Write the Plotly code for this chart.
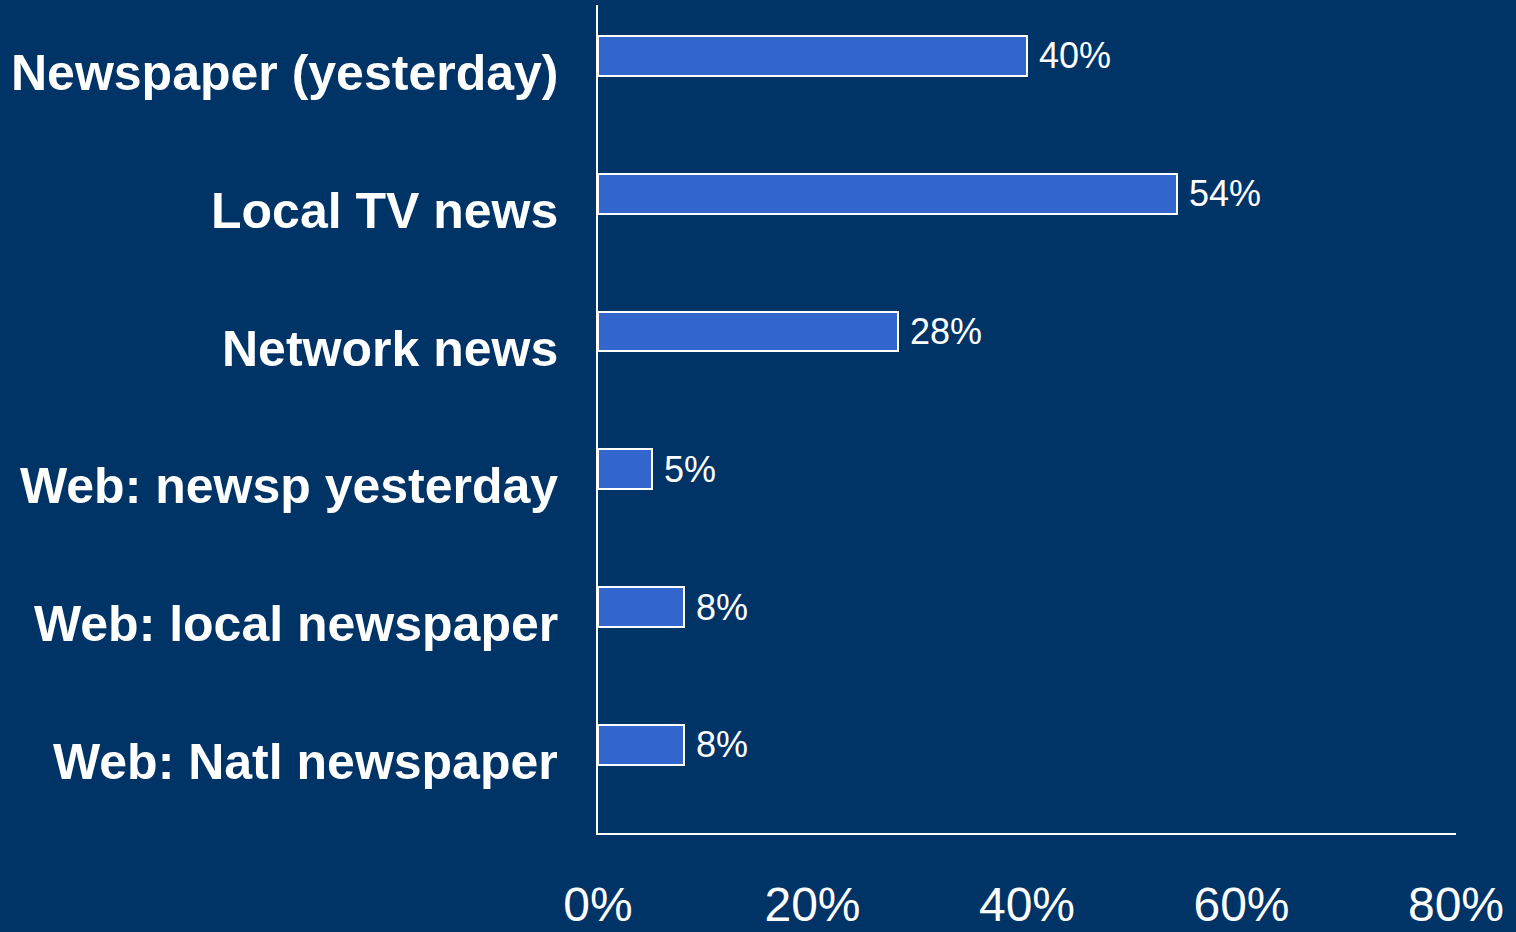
import plotly.graph_objects as go

# Media sources (listed bottom to top) and share of respondents using each
categories = [
    "Web: Natl newspaper",
    "Web: local newspaper",
    "Web: newsp yesterday",
    "Network news",
    "Local TV news",
    "Newspaper (yesterday)",
]
values = [8, 8, 5, 28, 54, 40]
tick_values = [0, 20, 40, 60, 80]
tick_labels = ["0%", "20%", "40%", "60%", "80%"]

BG = "#003366"
BAR = "#3366CC"
FONT = "Liberation Sans, Arial, sans-serif"

fig = go.Figure(
    go.Bar(
        x=values,
        y=categories,
        orientation="h",
        width=0.29,
        marker=dict(color=BAR, line=dict(color="white", width=2)),
        hoverinfo="skip",
    )
)

# Value labels just to the right of each bar end
for cat, val in zip(categories, values):
    fig.add_annotation(
        x=val, y=cat, text=f"{val}%", showarrow=False,
        xanchor="left", yanchor="middle", xshift=10,
        font=dict(family=FONT, size=36, color="white"),
    )

# Category names, set slightly below each bar's centre line
for cat in categories:
    fig.add_annotation(
        x=0, xref="paper", y=cat, text=f"<b>{cat}</b>", showarrow=False,
        xanchor="right", yanchor="middle", xshift=-38, yshift=-17,
        font=dict(family=FONT, size=50, color="white"),
    )

fig.update_layout(
    width=1516,
    height=932,
    margin=dict(l=598, r=60, t=5, b=99),
    paper_bgcolor=BG,
    plot_bgcolor=BG,
    showlegend=False,
    bargap=0,
    xaxis=dict(
        range=[0, 80],
        tickvals=tick_values,
        ticktext=tick_labels,
        showgrid=False,
        zeroline=False,
        showline=True,
        linecolor="white",
        linewidth=2,
        ticks="",
        automargin=False,
        ticklabelstandoff=28,
        tickfont=dict(family=FONT, size=48, color="white"),
        fixedrange=True,
    ),
    yaxis=dict(
        type="category",
        categoryorder="array",
        categoryarray=categories,
        range=[-0.64, 5.37],
        showgrid=False,
        zeroline=False,
        showline=True,
        linecolor="white",
        linewidth=2,
        ticks="",
        showticklabels=False,
        automargin=False,
        fixedrange=True,
    ),
)

fig.write_html("out.html")
